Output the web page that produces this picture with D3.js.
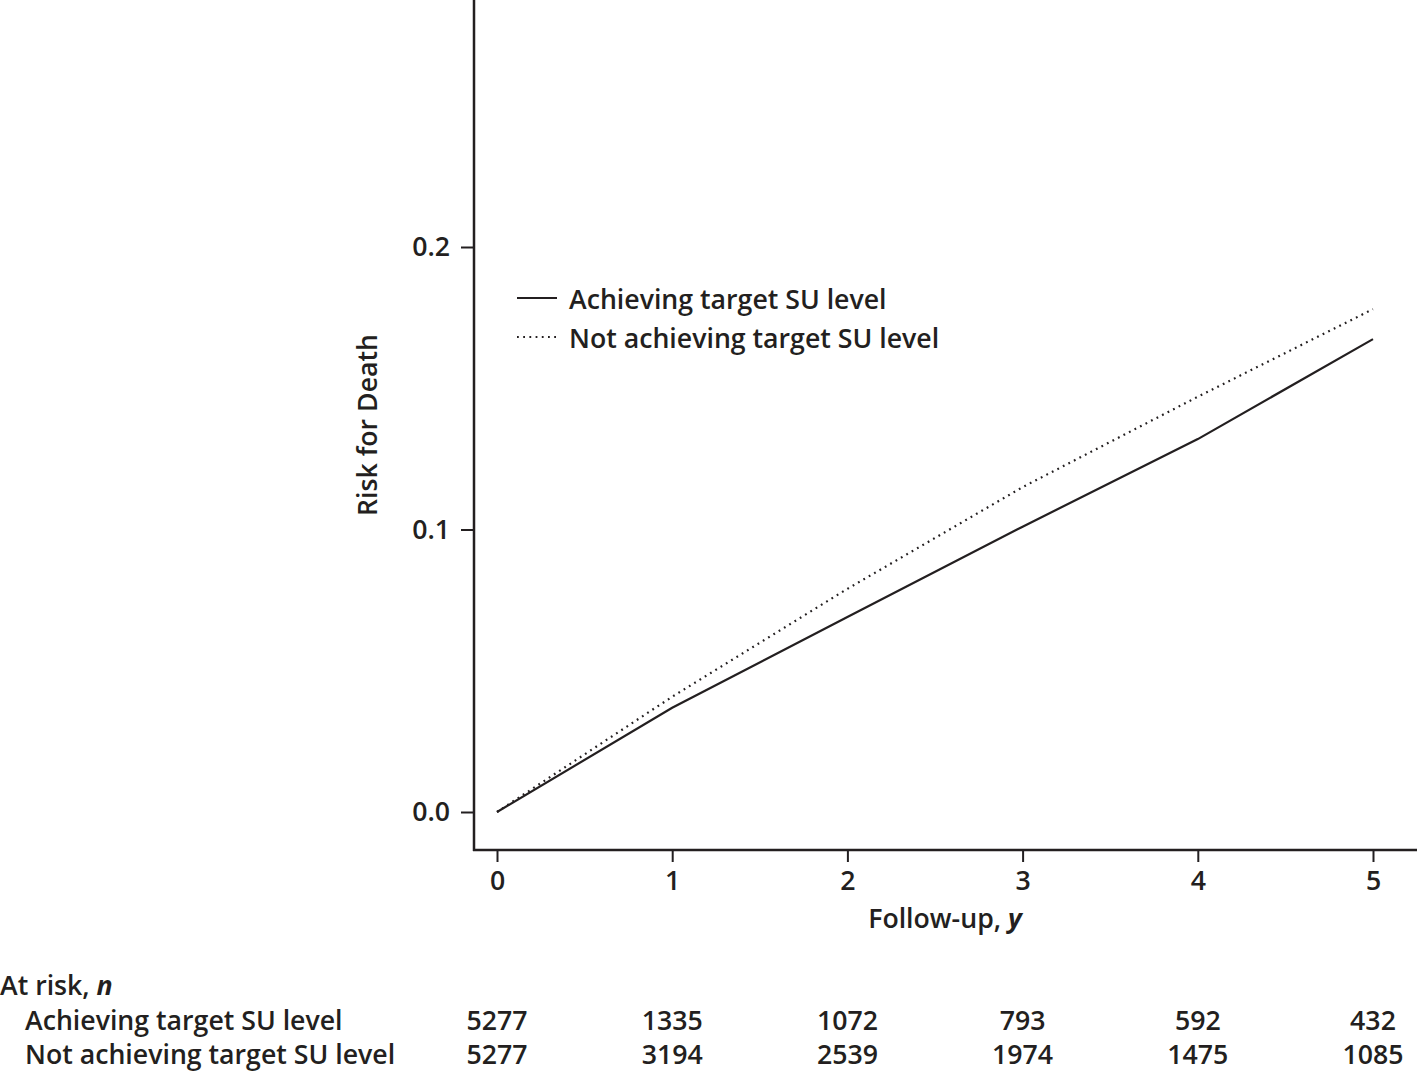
<!DOCTYPE html>
<html>
<head>
<meta charset="utf-8">
<script src="https://cdn.jsdelivr.net/npm/d3@7"></script>
<style>
  html, body { margin: 0; padding: 0; background: #fff; }
  svg { display: block; }
  text { font-family: "Open Sans", "Noto Sans", sans-serif; font-weight: 600; fill: #231f20; }
</style>
</head>
<body>
<svg id="chart" width="1419" height="1072"></svg>
<script>
const years = [0, 1, 2, 3, 4, 5];
const achieving = [0, 0.0369, 0.069, 0.101, 0.132, 0.1674];
const notAchieving = [0, 0.0408, 0.079, 0.115, 0.147, 0.178];
const yTicks = [0.0, 0.1, 0.2];
const seriesNames = ["Achieving target SU level", "Not achieving target SU level"];
const atRiskAchieving = [5277, 1335, 1072, 793, 592, 432];
const atRiskNot = [5277, 3194, 2539, 1974, 1475, 1085];

const ink = "#231f20";
const svg = d3.select("#chart");
const fs = 26.7;

const x = d3.scaleLinear().domain([0, 5]).range([497, 1373]);
const y = d3.scaleLinear().domain([0, 0.2]).range([812, 247]);
const axisX0 = 474, axisX1 = 1417, axisY = 850, axisTop = 0;

// y axis
const gy = svg.append("g").attr("transform", `translate(${axisX0},0)`)
  .call(d3.axisLeft(y).tickValues(yTicks).tickFormat(d3.format(".1f")).tickSize(13).tickPadding(11));
gy.select(".domain").remove();
gy.selectAll(".tick line").attr("stroke", ink).attr("stroke-width", 2);
gy.selectAll(".tick text").style("font-size", fs + "px").attr("fill", ink).attr("font-family", null);
svg.append("line").attr("x1", axisX0).attr("x2", axisX0).attr("y1", axisTop).attr("y2", axisY + 1)
  .attr("stroke", ink).attr("stroke-width", 2.5);

// x axis
const gx = svg.append("g").attr("transform", `translate(0,${axisY})`)
  .call(d3.axisBottom(x).tickValues(years).tickFormat(d3.format("d")).tickSize(12).tickPadding(9));
gx.select(".domain").remove();
gx.selectAll(".tick line").attr("stroke", ink).attr("stroke-width", 2);
gx.selectAll(".tick text").style("font-size", fs + "px").attr("fill", ink).attr("font-family", null);
svg.append("line").attr("x1", axisX0 - 1).attr("x2", axisX1).attr("y1", axisY).attr("y2", axisY)
  .attr("stroke", ink).attr("stroke-width", 2.5);

// axis titles
svg.append("text").attr("transform", "translate(377,425) rotate(-90)")
  .attr("text-anchor", "middle").style("font-size", fs + "px").text("Risk for Death");
const xl = svg.append("text").attr("x", 945).attr("y", 928).attr("text-anchor", "middle").style("font-size", fs + "px");
xl.append("tspan").text("Follow-up, ");
xl.append("tspan").style("font-style", "italic").style("font-weight", 700).text("y");

// lines
const line = d3.line().x((d, i) => x(years[i])).y(d => y(d));
svg.append("path").datum(achieving).attr("d", line).attr("fill", "none")
  .attr("stroke", ink).attr("stroke-width", 2.2);
svg.append("path").datum(notAchieving).attr("d", line).attr("fill", "none")
  .attr("stroke", ink).attr("stroke-width", 2.2).attr("stroke-dasharray", "1.8,4.4");

// legend
const legend = svg.append("g");
const legY = [298, 337];
seriesNames.forEach((name, i) => {
  legend.append("line").attr("x1", 517).attr("x2", 557).attr("y1", legY[i]).attr("y2", legY[i])
    .attr("stroke", ink).attr("stroke-width", 2.2)
    .attr("stroke-dasharray", i === 0 ? null : "1.8,4.4");
  legend.append("text").attr("x", 569).attr("y", legY[i] + 11).style("font-size", fs + "px").text(name);
});

// at-risk table
const t = svg.append("text").attr("x", 0).attr("y", 995).style("font-size", fs + "px");
t.append("tspan").text("At risk, ");
t.append("tspan").style("font-style", "italic").style("font-weight", 700).text("n");
const rowsY = [1030, 1064];
[atRiskAchieving, atRiskNot].forEach((row, r) => {
  svg.append("text").attr("x", 25).attr("y", rowsY[r]).style("font-size", fs + "px").text(seriesNames[r]);
  svg.selectAll(null).data(row).enter().append("text")
    .attr("x", (d, i) => x(years[i])).attr("y", rowsY[r])
    .attr("text-anchor", "middle").style("font-size", fs + "px").text(d => d);
});
</script>
</body>
</html>
